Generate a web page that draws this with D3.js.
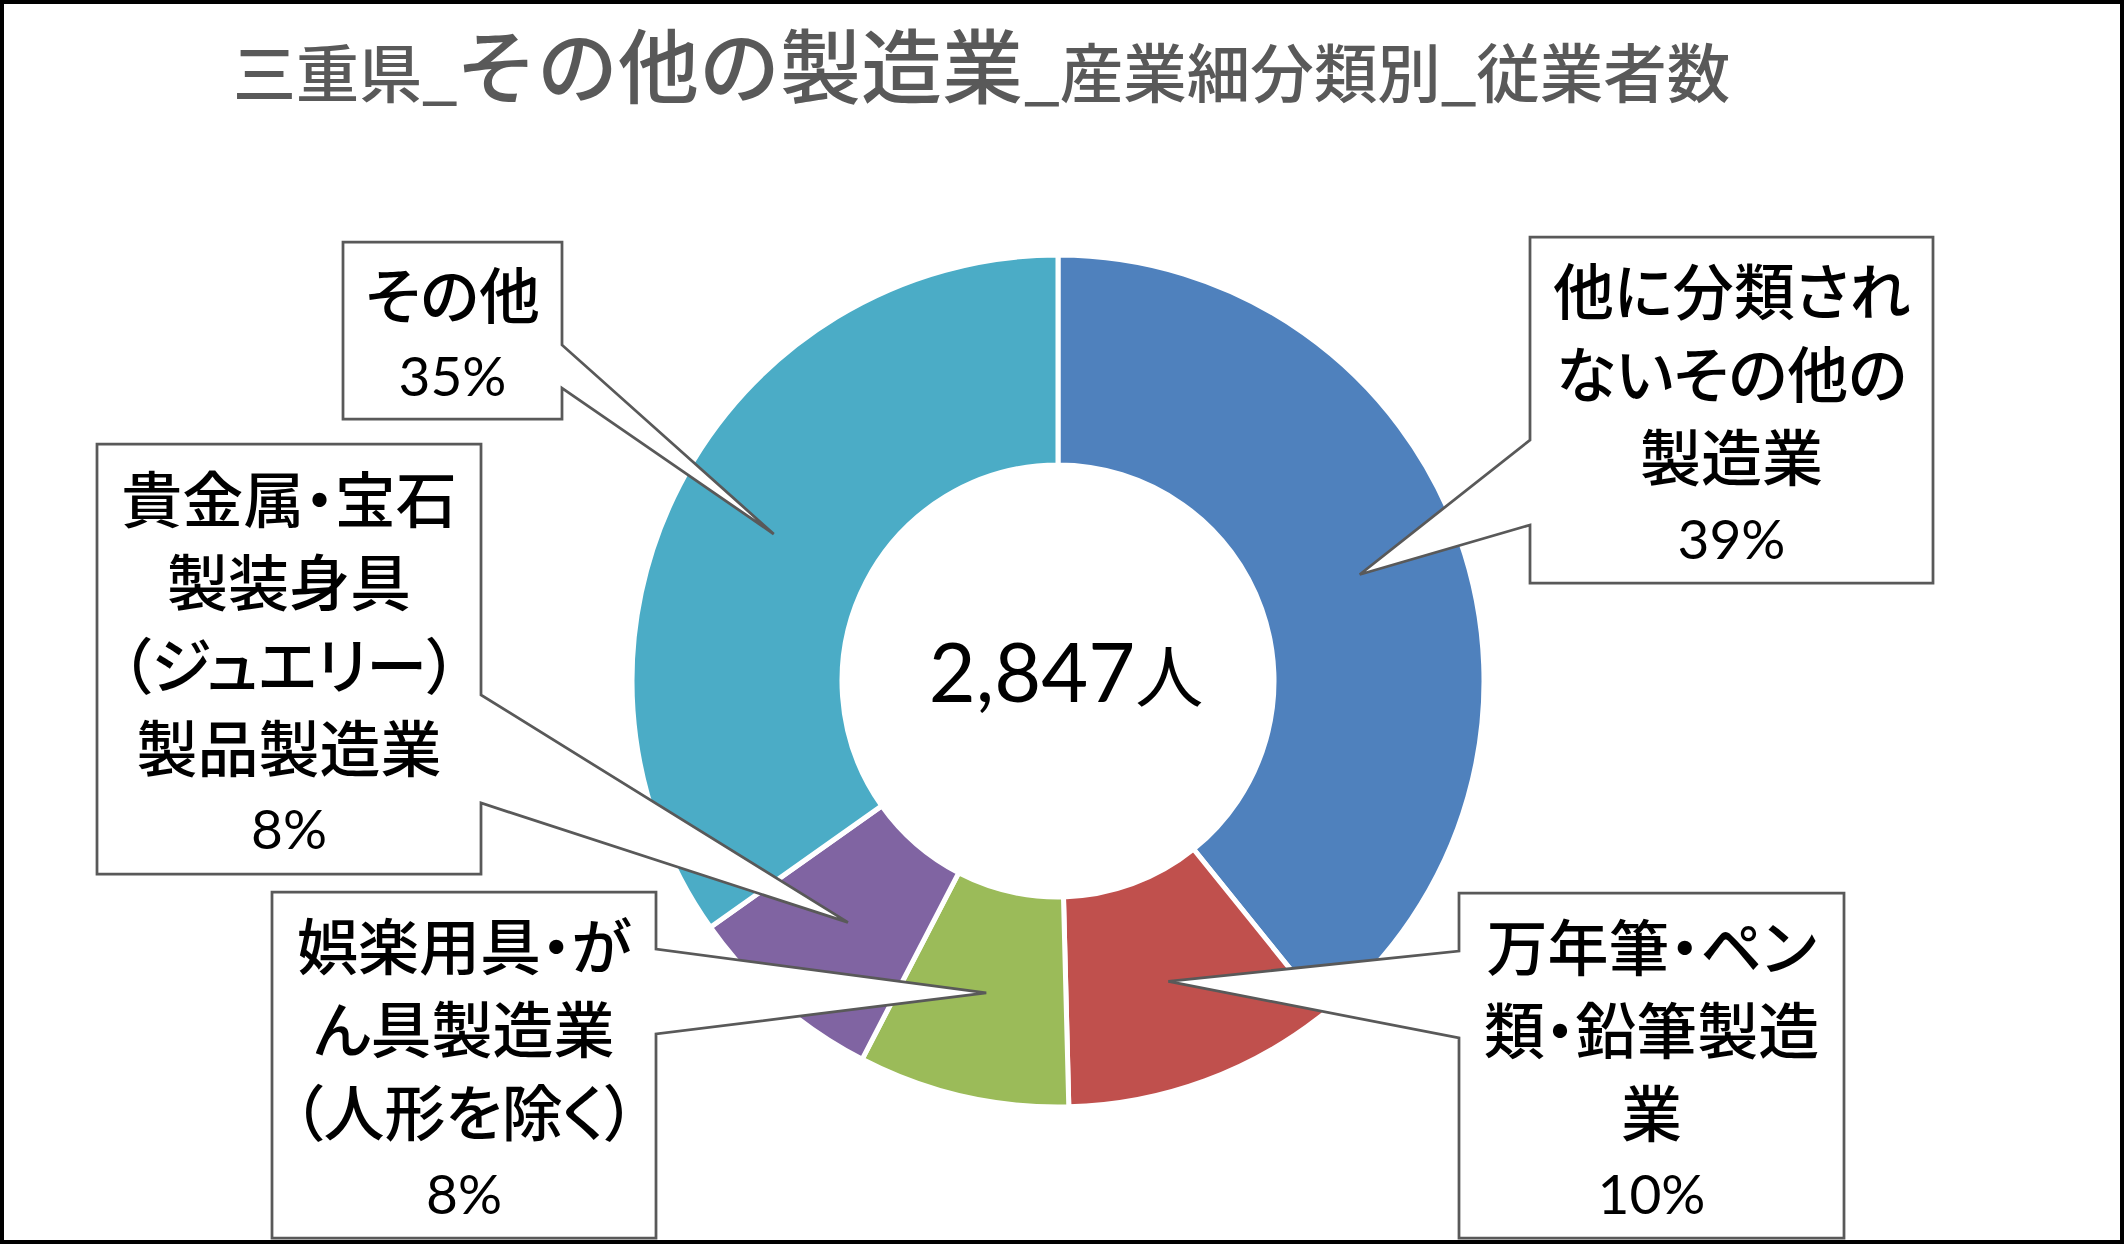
<!DOCTYPE html>
<html><head><meta charset="utf-8">
<script src="https://cdn.jsdelivr.net/npm/d3@7"></script>
<style>html,body{margin:0;padding:0;background:#fff;}svg{display:block;}</style>
</head><body>
<script>
// ---- data ----
const categories = [
  "他に分類されないその他の製造業",
  "万年筆・ペン類・鉛筆製造業",
  "娯楽用具・がん具製造業（人形を除く）",
  "貴金属・宝石製装身具（ジュエリー）製品製造業",
  "その他"
];
const values = [1116, 296, 228, 216, 991];
const labelLines = [
  ["他に分類され", "ないその他の", "製造業"],
  ["万年筆・ペン", "類・鉛筆製造", "業"],
  ["娯楽用具・が", "ん具製造業", "（人形を除く）"],
  ["貴金属・宝石", "製装身具", "（ジュエリー）", "製品製造業"],
  ["その他"]
];
const colors = ["#4F81BD", "#C0504D", "#9BBB59", "#8064A2", "#4BACC6"];
const titleParts = ["三重県_", "その他の製造業", "_産業細分類別_従業者数"];
const unit = "人";

// ---- layout ----
const W = 2127, H = 1244, cx = 1058, cy = 681, R = 426, r = 216;
const boxes = [
  {x:1530, y:237, w:403, h:346, side:"left",  b1:440, b2:525},
  {x:1459, y:893, w:385, h:345, side:"left",  b1:951, b2:1038},
  {x:272,  y:892, w:384, h:346, side:"right", b1:949, b2:1034},
  {x:97,   y:444, w:384, h:430, side:"right", b1:695, b2:803},
  {x:343,  y:242, w:219, h:177, side:"right", b1:345, b2:388}
];

const svg = d3.select("body").append("svg").attr("width", W).attr("height", H);
svg.append("rect").attr("x",0).attr("y",0).attr("width",W).attr("height",H).attr("fill","#fff");

// title
const title = svg.append("text").attr("y", 97).attr("fill", "#595959")
  .style("font-family", "'Noto Sans CJK JP'").style("font-weight", 500);
title.append("tspan").attr("x", 233).style("font-size", "63px").text(titleParts[0]);
title.append("tspan").attr("x", 456).style("font-size", "81px").text(titleParts[1]);
title.append("tspan").attr("x", 1024).style("font-size", "63.5px").text(titleParts[2]);

// donut
const total = d3.sum(values);
const pie = d3.pie().sort(null).value(d => d);
const arcs = pie(values);
const arc = d3.arc().innerRadius(r).outerRadius(R);
const tipArc = d3.arc().innerRadius(r).outerRadius(424);
const g = svg.append("g").attr("transform", `translate(${cx},${cy})`);
g.selectAll("path").data(arcs).join("path")
  .attr("d", arc).attr("fill", (d,i) => colors[i])
  .attr("stroke", "#fff").attr("stroke-width", 5).attr("stroke-linejoin", "miter");

// center total
const ct = svg.append("text").attr("x", cx + 8).attr("y", 702).attr("text-anchor", "middle").attr("fill", "#000");
ct.append("tspan").style("font-family", "Lato").style("font-size", "81px").text(d3.format(",")(total));
ct.append("tspan").style("font-family", "'Noto Sans CJK JP'").style("font-size", "68px").text(unit);

// callouts
const pct = d3.format(".0%");
const order = [0, 1, 2, 3, 4];
order.forEach(i => {
  const b = boxes[i];
  const c = tipArc.centroid(arcs[i]);
  const tx = cx + c[0], ty = cy + c[1];
  const x0 = b.x, x1 = b.x + b.w, y0 = b.y, y1 = b.y + b.h;
  let p;
  if (b.side === "right") {
    p = `M${x0},${y0}H${x1}V${b.b1}L${tx},${ty}L${x1},${b.b2}V${y1}H${x0}Z`;
  } else {
    p = `M${x0},${y0}H${x1}V${y1}H${x0}V${b.b2}L${tx},${ty}L${x0},${b.b1}Z`;
  }
  svg.append("path").attr("d", p).attr("fill", "#fff")
    .attr("stroke", "#595959").attr("stroke-width", 2.75).attr("stroke-linejoin", "miter");
  const lines = labelLines[i].concat([pct(values[i] / total)]);
  const n = lines.length, mid = b.y + b.h / 2 + 3, lh = 83;
  lines.forEach((ln, k) => {
    const isPct = k === n - 1;
    svg.append("text")
      .attr("x", b.x + b.w / 2)
      .attr("y", mid + (k - (n - 1) / 2) * lh)
      .attr("text-anchor", "middle")
      .attr("dominant-baseline", "central")
      .attr("fill", "#000")
      .style("font-family", isPct ? "Lato" : "'Noto Sans CJK JP'")
      .style("font-weight", isPct ? 400 : 500)
      .style("font-size", isPct ? "55px" : "61px")
      .style("font-feature-settings", "'palt'")
      .text(ln);
  });
});

// outer frame
svg.append("rect").attr("x", 2).attr("y", 2).attr("width", 2120).attr("height", 1240)
  .attr("fill", "none").attr("stroke", "#000").attr("stroke-width", 4);
</script>
</body></html>
